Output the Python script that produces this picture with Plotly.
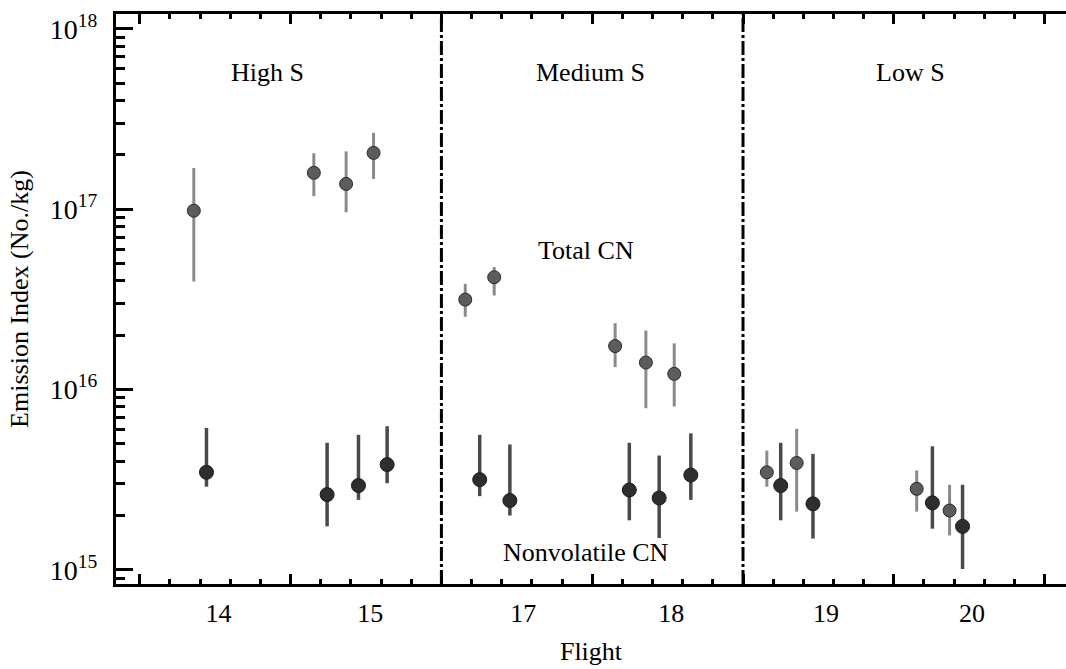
import plotly.graph_objects as go

# ---------------- data ----------------
# x positions on the running flight-index axis
total_x = [1.79, 5.77, 6.84, 7.75, 10.79, 11.75, 15.76, 16.78, 17.72, 20.79, 21.78, 25.76, 26.85]
total_y = [9.8e16, 1.59e17, 1.38e17, 2.05e17, 3.15e16, 4.19e16, 1.74e16, 1.41e16, 1.22e16,
           3.47e15, 3.91e15, 2.81e15, 2.13e15]
total_hi = [1.69e17, 2.04e17, 2.09e17, 2.65e17, 3.85e16, 4.77e16, 2.33e16, 2.12e16, 1.80e16,
            4.58e15, 6.05e15, 3.55e15, 2.96e15]
total_lo = [3.97e16, 1.18e17, 9.6e16, 1.47e17, 2.53e16, 3.32e16, 1.33e16, 7.87e15, 8.04e15,
            2.89e15, 2.10e15, 2.10e15, 1.55e15]

nv_x = [2.21, 6.21, 7.25, 8.20, 11.27, 12.27, 16.23, 17.22, 18.27, 21.25, 22.32, 26.28, 27.28]
nv_y = [3.47e15, 2.61e15, 2.93e15, 3.83e15, 3.16e15, 2.42e15, 2.77e15, 2.50e15, 3.35e15,
        2.93e15, 2.32e15, 2.35e15, 1.74e15]
nv_hi = [6.12e15, 5.06e15, 5.60e15, 6.25e15, 5.60e15, 4.95e15, 5.06e15, 4.30e15, 5.71e15,
         5.06e15, 4.39e15, 4.84e15, 2.96e15]
nv_lo = [2.89e15, 1.74e15, 2.44e15, 3.02e15, 2.56e15, 2.00e15, 1.88e15, 1.50e15, 2.44e15,
         1.88e15, 1.49e15, 1.69e15, 1.01e15]

flight_labels = ["14", "15", "17", "18", "19", "20"]
flight_label_x = [2.61, 7.64, 12.71, 17.62, 22.75, 27.59]

group_bounds = [10, 20]
group_names = ["High S", "Medium S", "Low S"]
group_name_x = [4.23, 14.93, 25.57]

y_tick_vals = [1e15, 1e16, 1e17, 1e18]
y_tick_text = ["10<sup>15</sup>", "10<sup>16</sup>", "10<sup>17</sup>", "10<sup>18</sup>"]
y_minor_vals = [m * 10 ** e for e in range(14, 18) for m in range(2, 10)]
x_major_ticks = [0, 5, 10, 15, 20, 25, 30]

x_range = [-0.79, 30.71]
y_range = [14.921, 18.082]

FONT = "Liberation Serif, Times New Roman, serif"

fig = go.Figure()

fig.add_trace(go.Scatter(
    x=total_x, y=total_y, mode="markers", name="Total CN",
    marker=dict(size=13, color="#5c5c5c", line=dict(color="#2a2a2a", width=1)),
    error_y=dict(type="data", symmetric=False,
                 array=[h - v for h, v in zip(total_hi, total_y)],
                 arrayminus=[v - l for v, l in zip(total_y, total_lo)],
                 color="#8a8a8a", thickness=3, width=0),
))
# drawn on the overlaying x axis (identical range) so that axis is rendered
fig.add_trace(go.Scatter(
    x=nv_x, y=nv_y, mode="markers", name="Nonvolatile CN", xaxis="x2", yaxis="y",
    marker=dict(size=14, color="#2e2e2e", line=dict(color="#1a1a1a", width=1)),
    error_y=dict(type="data", symmetric=False,
                 array=[h - v for h, v in zip(nv_hi, nv_y)],
                 arrayminus=[v - l for v, l in zip(nv_y, nv_lo)],
                 color="#4a4a4a", thickness=3.5, width=0),
))

for b in group_bounds:
    fig.add_shape(type="line", xref="x", yref="paper", x0=b, x1=b, y0=0, y1=1,
                  line=dict(color="black", width=3, dash="14px,3px,3px,3px"))

for name, gx in zip(group_names, group_name_x):
    fig.add_annotation(x=gx, y=17.758, xref="x", yref="y", text=name, showarrow=False,
                       font=dict(family=FONT, size=26, color="black"))
fig.add_annotation(x=14.80, y=16.770, xref="x", yref="y", text="Total CN", showarrow=False,
                   font=dict(family=FONT, size=26, color="black"))
fig.add_annotation(x=14.80, y=15.095, xref="x", yref="y", text="Nonvolatile CN", showarrow=False,
                   font=dict(family=FONT, size=26, color="black"))

fig.update_layout(
    width=1066, height=669, autosize=False,
    margin=dict(l=116, r=0, t=14, b=85),
    plot_bgcolor="white", paper_bgcolor="white",
    font=dict(family=FONT, size=26, color="black"),
    showlegend=False,
    xaxis=dict(
        range=x_range, showline=True, linewidth=3, linecolor="black", mirror="ticks",
        ticks="inside", tickmode="array", tickvals=x_major_ticks, ticklen=10, tickwidth=2.5,
        tickcolor="black", showticklabels=False, showgrid=False, zeroline=False,
        minor=dict(ticks="inside", tickmode="linear", tick0=0, dtick=1, ticklen=5,
                   tickwidth=2.5, tickcolor="black", showgrid=False),
    ),
    xaxis2=dict(
        overlaying="x", anchor="y", side="bottom", range=x_range,
        tickmode="array", tickvals=flight_label_x, ticktext=flight_labels,
        ticks="", showline=False, showgrid=False, zeroline=False,
        tickfont=dict(family=FONT, size=26, color="black"), ticklabelstandoff=11,
        title=dict(text="Flight", font=dict(family=FONT, size=26, color="black"), standoff=14),
    ),
    yaxis=dict(
        type="log", range=y_range, showline=True, linewidth=3, linecolor="black", mirror=False,
        ticks="inside", tickmode="array", tickvals=y_tick_vals, ticktext=y_tick_text,
        ticklen=17, tickwidth=3, tickcolor="black", showgrid=False, zeroline=False,
        tickfont=dict(family=FONT, size=28, color="black"), ticklabelstandoff=10,
        minor=dict(ticks="inside", tickmode="array", tickvals=y_minor_vals, ticklen=9,
                   tickwidth=2.5, tickcolor="black", showgrid=False),
        title=dict(text="Emission Index (No./kg)", font=dict(family=FONT, size=26, color="black"),
                   standoff=14),
    ),
    yaxis2=dict(
        type="log", overlaying="y", anchor="x", side="right", range=y_range,
        showline=False, ticks="inside", tickmode="array", tickvals=y_tick_vals,
        ticklen=14, tickwidth=3, tickcolor="black", showticklabels=False,
        showgrid=False, zeroline=False,
        minor=dict(ticks="inside", tickmode="array", tickvals=y_minor_vals, ticklen=5,
                   tickwidth=2.5, tickcolor="black", showgrid=False),
    ),
)

fig.write_html("out.html")
